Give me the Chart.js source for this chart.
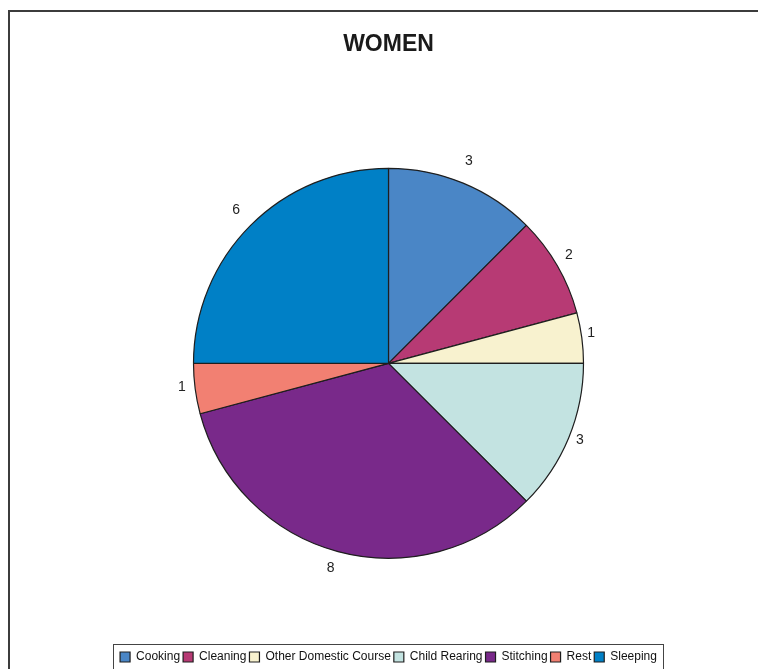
<!DOCTYPE html>
<html>
<head>
<meta charset="utf-8">
<script src="https://cdn.jsdelivr.net/npm/chart.js@4"></script>
<style>
    html, body { margin: 0; padding: 0; background: #fff; }
    #frame {
        position: absolute; left: 8px; top: 10px; width: 760px; height: 670px;
        border-left: 2px solid #3c3c3c; border-top: 2px solid #3c3c3c;
    }
    #wrap { position: absolute; left: 0; top: 0; width: 758px; height: 669px; }
</style>
</head>
<body>
<div id="frame"></div>
<div id="wrap"><canvas id="women-chart"></canvas></div>
<script>
const categories = ['Cooking', 'Cleaning', 'Other Domestic Course', 'Child Rearing', 'Stitching', 'Rest', 'Sleeping'];
const hours = [3, 2, 1, 3, 8, 1, 6];
const sliceColors = ['#4a86c6', '#b73a74', '#f8f2cf', '#c3e3e1', '#79298a', '#f28072', '#0080c6'];

const FONT = 'Arial, "Liberation Sans", sans-serif';

// value labels just outside every slice
const outsideLabels = {
    id: 'outsideLabels',
    afterDatasetsDraw(chart) {
        const ctx = chart.ctx;
        const meta = chart.getDatasetMeta(0);
        ctx.save();
        ctx.font = '14px ' + FONT;
        ctx.fillStyle = '#222';
        ctx.textAlign = 'center';
        ctx.textBaseline = 'middle';
        meta.data.forEach((arc, i) => {
            const p = arc.getProps(['x', 'y', 'startAngle', 'endAngle', 'outerRadius'], true);
            const mid = (p.startAngle + p.endAngle) / 2;
            const dist = p.outerRadius + 10 + 11 * Math.abs(Math.sin(mid));
            ctx.fillText(String(hours[i]), p.x - 2 + Math.cos(mid) * dist, p.y - 3 + Math.sin(mid) * dist);
        });
        ctx.restore();
    }
};

// thin frame around the legend items
const legendFrame = {
    id: 'legendFrame',
    afterDraw(chart) {
        const legend = chart.legend;
        if (!legend || !legend.legendHitBoxes.length) return;
        const boxes = legend.legendHitBoxes;
        const left = Math.min(...boxes.map(b => b.left)) - 7;
        const right = Math.max(...boxes.map(b => b.left + b.width)) + 6;
        const top = boxes[0].top - 7;
        const ctx = chart.ctx;
        ctx.save();
        ctx.strokeStyle = '#444';
        ctx.lineWidth = 1;
        ctx.strokeRect(Math.round(left) + 0.5, Math.round(top) + 0.5, Math.round(right - left), 40);
        ctx.restore();
    }
};

new Chart(document.getElementById('women-chart').getContext('2d'), {
    type: 'pie',
    data: {
        labels: categories,
        datasets: [{
            data: hours,
            backgroundColor: sliceColors,
            borderColor: '#1e1e1e',
            borderWidth: 1.2
        }]
    },
    options: {
        responsive: true,
        maintainAspectRatio: false,
        animation: false,
        radius: 195,
        layout: { padding: { left: 19, right: 0, top: 0, bottom: -4 } },
        plugins: {
            title: {
                display: true,
                text: 'WOMEN',
                color: '#1a1a1a',
                font: { family: FONT, size: 23, weight: 'bold' },
                padding: { top: 31, bottom: 20 }
            },
            legend: {
                position: 'bottom',
                labels: {
                    boxWidth: 10,
                    boxHeight: 10,
                    padding: 3,
                    color: '#111',
                    font: { family: FONT, size: 12 }
                }
            },
            tooltip: { enabled: false }
        }
    },
    plugins: [outsideLabels, legendFrame]
});
</script>
</body>
</html>
